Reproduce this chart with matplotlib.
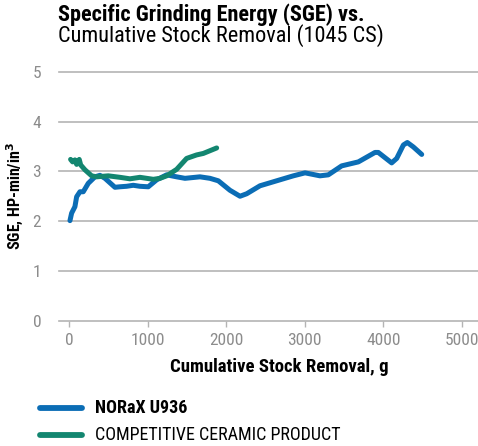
import matplotlib
matplotlib.use('Agg')
import matplotlib.pyplot as plt
from matplotlib import font_manager
from matplotlib.lines import Line2D

# data
norax_x = [13, 34, 76, 98, 140, 182, 246, 331, 394, 458, 585, 649, 734, 818, 903,
           1009, 1116, 1243, 1370, 1476, 1667, 1794, 1900, 2048, 2176, 2261, 2430,
           2557, 2684, 2854, 3003, 3193, 3299, 3469, 3681, 3893, 3935, 4105, 4169,
           4254, 4304, 4381, 4487]
norax_y = [2.01, 2.16, 2.29, 2.49, 2.59, 2.59, 2.76, 2.89, 2.92, 2.86, 2.68, 2.69, 2.70,
           2.72, 2.70, 2.69, 2.83, 2.93, 2.89, 2.86, 2.89, 2.86, 2.81, 2.62, 2.50, 2.55,
           2.71, 2.77, 2.83, 2.91, 2.97, 2.91, 2.93, 3.11, 3.19, 3.38, 3.38, 3.17, 3.26,
           3.53, 3.58, 3.49, 3.34]

ceramic_x = [21, 47, 76, 98, 131, 149, 204, 289, 352, 500, 649, 776, 903, 988, 1073,
             1158, 1243, 1370, 1497, 1624, 1709, 1879]
ceramic_y = [3.24, 3.19, 3.23, 3.14, 3.24, 3.13, 3.03, 2.91, 2.89, 2.91, 2.88, 2.85,
             2.88, 2.86, 2.84, 2.86, 2.91, 3.04, 3.26, 3.33, 3.36, 3.47]

x_ticks = [0, 1000, 2000, 3000, 4000, 5000]
y_ticks = [0, 1, 2, 3, 4, 5]

series_labels = ['NORaX U936', 'COMPETITIVE CERAMIC PRODUCT']
BLUE = '#0b6db5'
GREEN = '#138670'
GRID = '#b4b4b4'
TICK_TEXT = '#8c8c8c'

installed = {f.name for f in font_manager.fontManager.ttflist}
narrow_choices = ['Roboto Condensed', 'Liberation Sans Narrow', 'Open Sans Condensed']
NARROW = next((f for f in narrow_choices if f in installed), None)
if NARROW:
    FONT, SCALE = NARROW, 1.0
else:
    FONT, SCALE = 'Liberation Sans', 0.9
plt.rcParams['font.family'] = [FONT, 'DejaVu Sans']


def main():
    fig = plt.figure(figsize=(4.78, 4.46), dpi=100)
    ax = fig.add_axes([0.124, 0.281, 0.876, 0.558])

    ax.plot(norax_x, norax_y, color=BLUE, lw=3.6, solid_capstyle='round',
            solid_joinstyle='round', zorder=3)
    ax.plot(ceramic_x, ceramic_y, color=GREEN, lw=3.6, solid_capstyle='round',
            solid_joinstyle='round', zorder=3)

    ax.set_xlim(-123, 5203)
    ax.set_ylim(0, 5)
    ax.set_xticks(x_ticks)
    ax.set_yticks(y_ticks)
    ax.set_xticklabels([str(t) for t in x_ticks])
    ax.set_yticklabels([str(t) for t in y_ticks])

    for s in ax.spines.values():
        s.set_visible(False)
    ax.grid(True, axis='y', color=GRID, lw=1.2, clip_on=False)
    ax.set_axisbelow(True)

    ax.tick_params(axis='x', length=4, width=1, color=GRID, labelcolor=TICK_TEXT,
                   labelsize=12.5 * SCALE, pad=5)
    ax.tick_params(axis='y', length=0, labelcolor=TICK_TEXT, labelsize=12.5 * SCALE, pad=13)

    ax.set_xlabel('Cumulative Stock Removal, g', fontsize=13.5 * SCALE, fontweight='heavy')
    ax.xaxis.set_label_coords(0.526, -0.15)
    ax.set_ylabel('SGE, HP-min/in$^\\mathbf{3}$', fontsize=11.5 * SCALE, fontweight='heavy')
    ax.yaxis.set_label_coords(-0.082, 0.5)

    fig.text(58 / 478, 1 - 15 / 446, 'Specific Grinding Energy (SGE) vs.',
             fontsize=16 * SCALE, fontweight='heavy', va='center', ha='left')
    fig.text(58 / 478, 1 - 36 / 446, 'Cumulative Stock Removal (1045 CS)',
             fontsize=16 * SCALE, va='center', ha='left')

    # legend drawn by hand to match the stacked layout below the axes
    for i, (label, color) in enumerate(zip(series_labels, [BLUE, GREEN])):
        y = 1 - (408 + 27 * i) / 446
        fig.add_artist(Line2D([40 / 478, 82 / 478], [y, y], color=color, lw=4.2,
                              solid_capstyle='round', transform=fig.transFigure))
        fig.text(95 / 478, y, label, fontsize=13 * SCALE, va='center', ha='left',
                 fontweight='heavy' if i == 0 else 'normal')

    fig.savefig('out.png', dpi=100)
    plt.close(fig)


if __name__ == '__main__':
    main()
